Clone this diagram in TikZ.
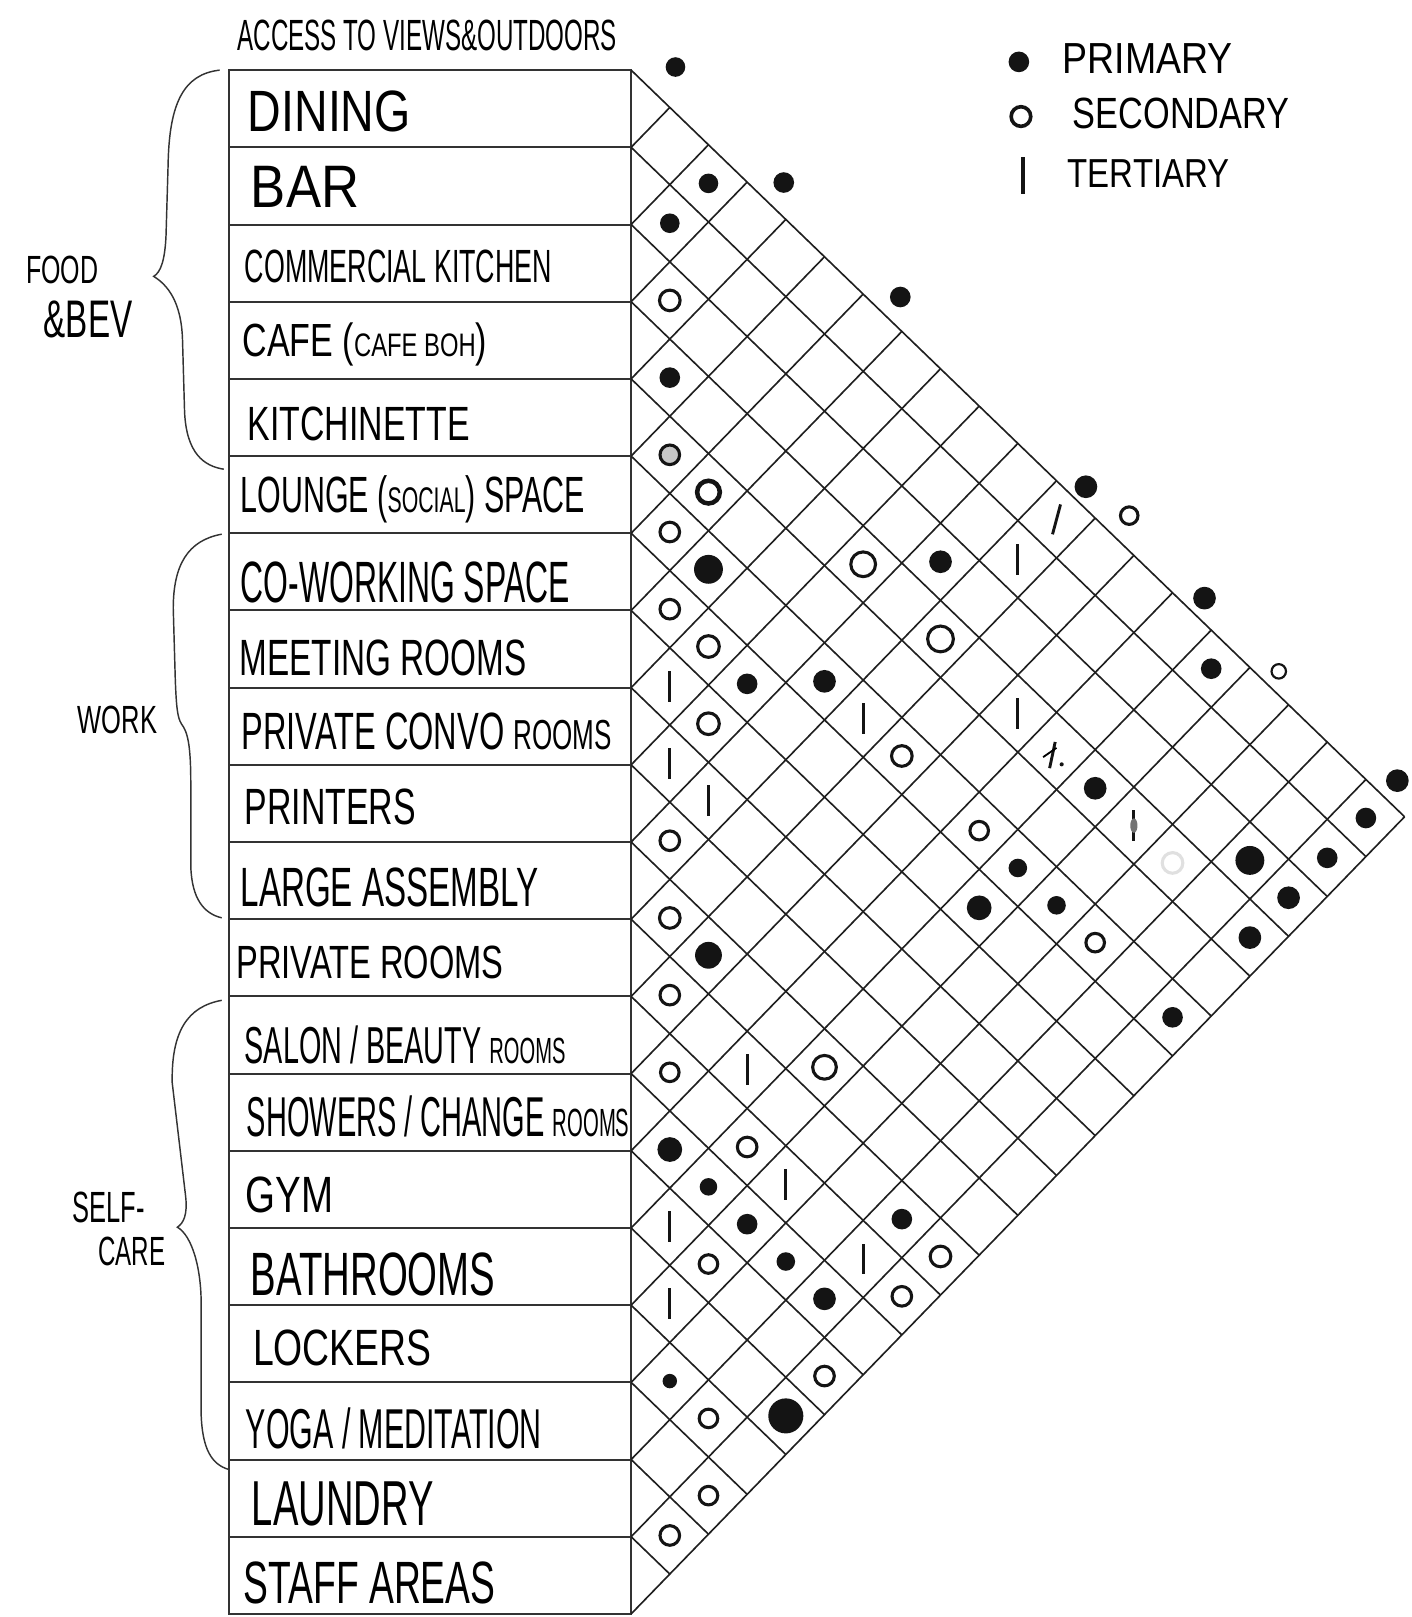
\documentclass[tikz,border=0pt]{standalone}
\usepackage{fontspec}
\setmainfont{Liberation Sans}
\usepackage{graphicx}
\usetikzlibrary{shapes.geometric}
\newdimen\pxu \pxu=0.02cm
\tikzset{
  gridline/.style={line width=0.9pt, draw=black!88},
  tableline/.style={line width=1.1pt, draw=black!80},
  prim/.style={circle, fill=black!92, draw=none, inner sep=0pt, minimum size=#1*0.02cm},
  prim/.default=20,
  sec/.style={circle, draw=black!92, line width=1.7pt, fill=none, inner sep=0pt, minimum size=#1*0.02cm},
  sec/.default=19,
  tert/.style={rectangle, fill=black!92, draw=none, inner sep=0pt, minimum width=1.6pt, minimum height=30*0.02cm},
  lab/.style={anchor=south west, inner sep=0pt},
  brace/.style={line width=0.8pt, draw=black!80},
}
\newcommand\rl[6]{\node[lab] (#1) at (#2,#3) {\resizebox*{#4\pxu}{#5\pxu}{#6}};}
\begin{document}
\begin{tikzpicture}[x=0.02cm, y=-0.02cm]
\fill[white] (0,0) rectangle (1369,1568);
\useasboundingbox (0,0) rectangle (1369,1568);

% header and legend
\rl{hdr}{230}{50}{368}{30}{ACCESS TO VIEWS\&OUTDOORS}
\node[prim=20] (lp) at (988,60) {};
\node[sec=19, line width=2pt] (ls) at (990,113) {};
\node[tert, minimum height=36*0.02cm, minimum width=2.2pt] (lt) at (992,170) {};
\rl{lpt}{1030}{72}{165}{29}{PRIMARY}
\rl{lst}{1040}{125}{210}{30}{SECONDARY}
\rl{ltt}{1035}{182}{157}{27}{TERTIARY}

% table
\draw[tableline] (222,68) rectangle (612,1565);
\foreach \k in {1,...,19} {
  \draw[tableline] (222,{68+\k*74.85}) -- (612,{68+\k*74.85});
}

% diagonal grid
\foreach \k in {0,...,20} {
  \draw[gridline] (612,{68+\k*74.85}) -- ({612+(20-\k)*37.5},{68+\k*38.65+20*36.2});
  \draw[gridline] (612,{68+\k*74.85}) -- ({612+\k*37.5},{68+\k*36.2});
}

% row labels
\rl{r0}{240}{128}{158}{40}{DINING}
\rl{r1}{243}{202}{105}{40}{BAR}
\rl{r2}{237}{275}{298}{32}{COMMERCIAL KITCHEN}
\rl{r3}{235}{355}{237}{42}{CAFE ({\scriptsize CAFE BOH})}
\rl{r4}{240}{428}{215}{33}{KITCHINETTE}
\rl{r5}{233}{508}{334}{46}{LOUNGE ({\scriptsize SOCIAL}) SPACE}
\rl{r6}{233}{585}{319}{40}{CO-WORKING SPACE}
\rl{r7}{232}{656}{278}{35}{MEETING ROOMS}
\rl{r8}{234}{728}{359}{36}{PRIVATE CONVO {\footnotesize ROOMS}}
\rl{r9}{237}{800}{166}{35}{PRINTERS}
\rl{r10}{233}{880}{289}{38}{LARGE ASSEMBLY}
\rl{r11}{229}{950}{259}{32}{PRIVATE ROOMS}
\rl{r12}{237}{1032}{311}{37}{SALON / BEAUTY {\scriptsize ROOMS}}
\rl{r13}{239}{1103}{371}{40}{SHOWERS / CHANGE {\scriptsize ROOMS}}
\rl{r14}{238}{1177}{85}{35}{GYM}
\rl{r15}{243}{1257}{237}{42}{BATHROOMS}
\rl{r16}{245}{1325}{173}{35}{LOCKERS}
\rl{r17}{238}{1405}{287}{40}{YOGA / MEDITATION}
\rl{r18}{244}{1480}{176}{43}{LAUNDRY}
\rl{r19}{236}{1556}{244}{41}{STAFF AREAS}

% group labels and braces
\rl{gfood}{25}{276}{70}{27}{FOOD}
\rl{gbev}{42}{328}{86}{36}{\&BEV}
\rl{gwork}{75}{712}{77}{27}{WORK}
\rl{gself}{70}{1186}{70}{30}{SELF-}
\rl{gcare}{95}{1228}{65}{28}{CARE}
\draw[brace] (213,68) .. controls (178,72) and (164,100) .. (163,160)
  -- (161,228) .. controls (160,252) and (156,264) .. (149,268)
  .. controls (162,276) and (176,292) .. (177,330)
  -- (179,400) .. controls (181,440) and (198,452) .. (217,455);
\draw[brace] (215,518) .. controls (182,524) and (168,548) .. (168,590)
  -- (170,660) .. controls (171,685) and (172,696) .. (176,702)
  .. controls (182,710) and (185,722) .. (185,760)
  -- (185,840) .. controls (186,872) and (198,886) .. (215,890);
\draw[brace] (215,970) .. controls (182,976) and (166,1000) .. (167,1050)
  -- (180,1160) .. controls (182,1178) and (178,1186) .. (172,1190)
  .. controls (186,1198) and (196,1230) .. (195,1270)
  -- (195,1370) .. controls (196,1405) and (205,1420) .. (222,1425);

% primary marks (upper row / lower row / size)
\foreach \i/\j/\s [count=\n] in {0/2/19, 1/2/19, 3/4/20, 5/7/28, 2/10/22, 6/9/20,
  5/10/22, 0/15/20, 3/15/22, 0/19/20, 2/18/28, 1/19/20, 5/15/18, 2/19/22,
  6/15/24, 5/16/18, 3/19/22, 10/12/26, 5/19/20, 13/14/24, 13/15/17, 13/16/20,
  11/18/20, 13/17/18, 13/18/22, 16/17/14, 15/19/34} {
  \node[prim=\s] (p\n) at ({612+(\j-\i)*37.5},{68+(\i+0.5)*38.65+(\j+0.5)*36.2}) {};
}

% secondary marks
\foreach \i/\j/\s [count=\n] in {2/3/20, 5/6/19, 3/9/24, 6/7/19, 3/11/25,
  6/8/21, 7/9/21, 5/12/20, 9/10/19, 5/14/18, 10/11/20, 5/17/18, 11/12/19,
  12/13/18, 10/15/23, 12/15/19, 14/16/18, 11/19/20, 12/19/19, 14/19/19,
  16/18/18, 17/19/18, 18/19/19} {
  \node[sec=\s] (s\n) at ({612+(\j-\i)*37.5},{68+(\i+0.5)*38.65+(\j+0.5)*36.2}) {};
}
\node[sec=19, fill=black!22] (sa) at ({612+1*37.5},{68+4.5*38.65+5.5*36.2}) {};
\node[sec=22, line width=2.5pt] (sb) at ({612+2*37.5},{68+4.5*38.65+6.5*36.2}) {};
\node[sec=20, draw=black!12] (sc) at ({612+14*37.5},{68+3.5*38.65+17.5*36.2}) {};

% tertiary marks
\foreach \i/\j [count=\n] in {1/11, 7/8, 5/11, 3/13, 8/9, 8/10, 11/14, 12/16,
  14/15, 12/18, 15/16} {
  \node[tert] (t\n) at ({612+(\j-\i)*37.5},{68+(\i+0.5)*38.65+(\j+0.5)*36.2}) {};
}
\node[tert, rotate=-15] (ta) at ({612+11*37.5},{68+0.5*38.65+11.5*36.2}) {};
\node[tert, rotate=-12, minimum height=26*0.02cm] (tb) at ({612+11*37.5-4},{68+3.5*38.65+14.5*36.2+4}) {};
\draw[line width=1pt] ([shift={(-9,2)}]tb.center) -- ([shift={(4,-7)}]tb.center);
\node[prim=4] (tbd) at ([shift={(9,9)}]tb.center) {};
\node[tert] (tc) at ({612+13*37.5},{68+3.5*38.65+16.5*36.2}) {};
\node[ellipse, fill=black!55, inner sep=0pt, minimum width=7*0.02cm, minimum height=14*0.02cm] (tcd) at (tc.center) {};

% access to views & outdoors
\node[prim=19] (v0) at (655,65) {};
\node[prim=20] (v3) at (760,177) {};
\node[prim=20] (v6) at (873,288) {};
\node[prim=22] (v11) at (1053,472) {};
\node[sec=17] (v12) at (1095,500) {};
\node[prim=22] (v14) at (1168,580) {};
\node[sec=14, line width=1.2pt] (v16) at (1240,651) {};
\node[prim=22] (v19) at (1355,757) {};
\end{tikzpicture}
\end{document}
